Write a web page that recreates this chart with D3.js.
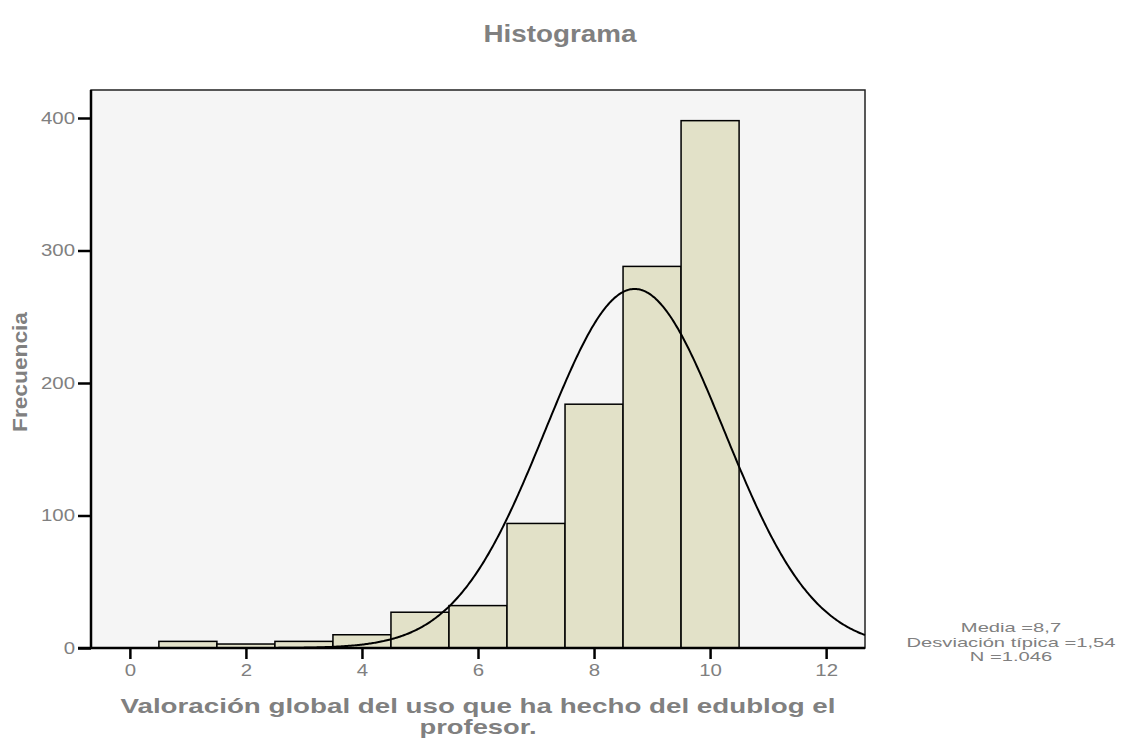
<!DOCTYPE html>
<html><head><meta charset="utf-8">
<script src="https://cdn.jsdelivr.net/npm/d3@7"></script>
<style>body{margin:0;background:#fff;} text{font-family:"Liberation Sans",Arial,sans-serif;}</style>
</head><body>
<svg id="c" width="1124" height="740"></svg>
<script>
const binCenters = [1,2,3,4,5,6,7,8,9,10];
const frequencies = [5,3,5,10,27,32,94,184,288,398];
const xTicks = [0,2,4,6,8,10,12];
const yTicks = [0,100,200,300,400];
const stats = {mean:8.7, sd:1.54, n:1046};
const statLines = ["Media =8,7","Desviación típica =1,54","N =1.046"];

const svg = d3.select("#c");
const L=91, R=865, T=90, B=648;
const x = d3.scaleLinear().domain([-0.67,12.67]).range([L,R]);
const y = d3.scaleLinear().domain([0,400]).range([B,118]);

function stretch(sel, f){
  sel.each(function(){ const w=this.getComputedTextLength(); d3.select(this).attr("textLength",w*f).attr("lengthAdjust","spacingAndGlyphs"); });
}
function fit(sel, w){ sel.attr("textLength",w).attr("lengthAdjust","spacingAndGlyphs"); }

svg.append("rect").attr("x",L).attr("y",T).attr("width",R-L).attr("height",B-T)
  .attr("fill","#f5f5f5").attr("stroke","#222").attr("stroke-width",1.5);

svg.append("g").selectAll("rect").data(binCenters).join("rect")
  .attr("x",d=>x(d-0.5)).attr("width",d=>x(d+0.5)-x(d-0.5))
  .attr("y",(d,i)=>y(frequencies[i])).attr("height",(d,i)=>y(0)-y(frequencies[i]))
  .attr("fill","#e2e1c8").attr("stroke","#000").attr("stroke-width",1.5);

const pts = d3.range(-0.67,12.671,0.02);
const dens = v => stats.n*1/(stats.sd*Math.sqrt(2*Math.PI))*Math.exp(-0.5*((v-stats.mean)/stats.sd)**2);
svg.append("path").datum(pts).attr("d",d3.line().x(d=>x(d)).y(d=>y(dens(d))))
  .attr("fill","none").attr("stroke","#000").attr("stroke-width",2);

const gy = svg.append("g").attr("transform",`translate(${L},0)`)
  .call(d3.axisLeft(y).tickValues(yTicks).tickSize(13).tickPadding(3));
const gx = svg.append("g").attr("transform",`translate(0,${B})`)
  .call(d3.axisBottom(x).tickValues(xTicks).tickSize(11).tickPadding(5));
[gy,gx].forEach(g=>{
  g.select(".domain").remove();
  g.selectAll("line").attr("stroke","#000").attr("stroke-width",2.5);
  g.selectAll("text").attr("fill","#808080").attr("font-size",17).attr("font-family","Liberation Sans, Arial, sans-serif");
  stretch(g.selectAll("text"),1.2);
});
svg.append("line").attr("x1",L).attr("x2",L).attr("y1",T).attr("y2",B).attr("stroke","#000").attr("stroke-width",2.5);
svg.append("line").attr("x1",78).attr("x2",R).attr("y1",B).attr("y2",B).attr("stroke","#000").attr("stroke-width",2.5);

fit(svg.append("text").attr("x",560).attr("y",42).attr("text-anchor","middle")
  .attr("font-size",24).attr("font-weight","bold").attr("fill","#808080").text("Histograma"),153);
fit(svg.append("text").attr("transform","translate(27,372) rotate(-90)").attr("text-anchor","middle")
  .attr("font-size",20).attr("font-weight","bold").attr("fill","#808080").text("Frecuencia"),120);
fit(svg.append("text").attr("x",478).attr("y",713).attr("text-anchor","middle")
  .attr("font-size",21).attr("font-weight","bold").attr("fill","#808080").text("Valoración global del uso que ha hecho del edublog el"),715);
fit(svg.append("text").attr("x",478).attr("y",734).attr("text-anchor","middle")
  .attr("font-size",21).attr("font-weight","bold").attr("fill","#808080").text("profesor."),117);
stretch(svg.append("g").selectAll("text").data(statLines).join("text")
  .attr("x",1011).attr("y",(d,i)=>632+i*14.5).attr("text-anchor","middle")
  .attr("font-size",13).attr("fill","#808080").text(d=>d),1.55);
</script>
</body></html>
